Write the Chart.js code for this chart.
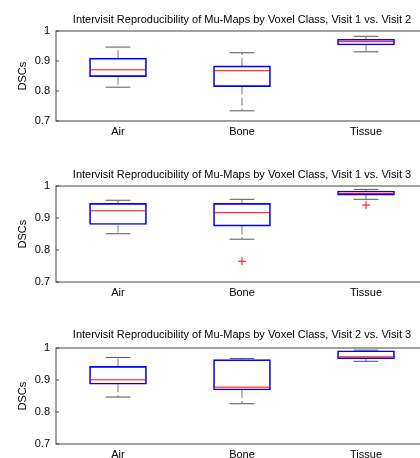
<!DOCTYPE html>
<html>
<head>
<meta charset="utf-8">
<script src="https://cdn.jsdelivr.net/npm/chart.js@4/dist/chart.umd.min.js"></script>
<style>
  body { margin: 0; width: 420px; height: 458px; overflow: hidden; background: #fff; position: relative; }
  .panel { position: absolute; left: 0; width: 440px; }
</style>
</head>
<body>
<div class="panel" style="top:0px"><canvas id="c1" width="440" height="141"></canvas></div>
<div class="panel" style="top:155px"><canvas id="c2" width="440" height="147"></canvas></div>
<div class="panel" style="top:315px"><canvas id="c3" width="440" height="149"></canvas></div>
<script>
// data
const classes = ["Air", "Bone", "Tissue"];
const yTicks = [0.7, 0.8, 0.9, 1];
const titles = [
  "Intervisit Reproducibility of Mu-Maps by Voxel Class, Visit 1 vs. Visit 2",
  "Intervisit Reproducibility of Mu-Maps by Voxel Class, Visit 1 vs. Visit 3",
  "Intervisit Reproducibility of Mu-Maps by Voxel Class, Visit 2 vs. Visit 3",
];

// visit 1 vs 2
const low12 = [0.813, 0.734, 0.931];
const q1_12 = [0.848, 0.815, 0.954];
const med12 = [0.871, 0.868, 0.965];
const q3_12 = [0.910, 0.884, 0.973];
const high12 = [0.947, 0.928, 0.983];
const out12Class = [];
const out12Val = [];

// visit 1 vs 3
const low13 = [0.851, 0.834, 0.959];
const q1_13 = [0.880, 0.875, 0.972];
const med13 = [0.923, 0.917, 0.977];
const q3_13 = [0.946, 0.946, 0.985];
const high13 = [0.956, 0.959, 0.990];
const out13Class = ["Bone", "Tissue"];
const out13Val = [0.765, 0.941];

// visit 2 vs 3
const low23 = [0.847, 0.826, 0.959];
const q1_23 = [0.887, 0.869, 0.967];
const med23 = [0.901, 0.878, 0.973];
const q3_23 = [0.943, 0.964, 0.992];
const high23 = [0.971, 0.968, 0.994];
const out23Class = [];
const out23Val = [];

// layout of the three panels
const titlePadBottom = [6, 6, 8];
const boxHalf = 0.23;
const capHalf = 0.1;

const framePlugin = {
  id: "frame",
  afterDraw(chart) {
    const ctx = chart.ctx;
    const a = chart.chartArea;
    ctx.save();
    ctx.strokeStyle = "#444";
    ctx.lineWidth = 1;
    ctx.strokeRect(Math.round(a.left), Math.round(a.top), Math.round(a.right - a.left), Math.round(a.bottom - a.top));
    ctx.beginPath();
    chart.scales.y.ticks.forEach((t) => {
      const y = Math.round(chart.scales.y.getPixelForValue(t.value));
      ctx.moveTo(a.left, y);
      ctx.lineTo(a.left + 3, y);
    });
    ctx.stroke();
    ctx.restore();
  },
};

function makePanel(id, idx, low, q1, med, q3, high, outClass, outVal) {
  const boxes = classes.map((c, i) => ({ x: i + 1, y: [q1[i], q3[i]] }));
  const medians = [];
  const caps = [];
  const whiskers = [];
  classes.forEach((c, i) => {
    const x = i + 1;
    medians.push({ x: x - boxHalf, y: med[i] }, { x: x + boxHalf, y: med[i] }, { x: x, y: null });
    caps.push({ x: x - capHalf, y: high[i] }, { x: x + capHalf, y: high[i] }, { x: x, y: null });
    caps.push({ x: x - capHalf, y: low[i] }, { x: x + capHalf, y: low[i] }, { x: x, y: null });
    whiskers.push({ x: x, y: q3[i] }, { x: x, y: high[i] }, { x: x, y: null });
    whiskers.push({ x: x, y: q1[i] }, { x: x, y: low[i] }, { x: x, y: null });
  });
  const outliers = outClass.map((c, k) => ({ x: classes.indexOf(c) + 1, y: outVal[k] }));

  new Chart(document.getElementById(id), {
    type: "bar",
    data: {
      datasets: [
        {
          type: "scatter",
          data: outliers,
          pointStyle: "cross",
          pointRadius: 4,
          borderColor: "#ff0000",
          borderWidth: 1,
          order: 0,
        },
        {
          type: "line",
          data: medians,
          borderColor: "#ff0000",
          borderWidth: 1,
          pointRadius: 0,
          spanGaps: false,
          order: 1,
        },
        {
          type: "bar",
          data: boxes,
          backgroundColor: "rgba(0,0,0,0)",
          borderColor: "#0000ff",
          borderWidth: 1,
          borderSkipped: false,
          barThickness: 57,
          order: 2,
        },
        {
          type: "line",
          data: caps,
          borderColor: "#555",
          borderWidth: 1,
          pointRadius: 0,
          spanGaps: false,
          order: 3,
        },
        {
          type: "line",
          data: whiskers,
          borderColor: "#777",
          borderWidth: 1,
          borderDash: [8, 3],
          pointRadius: 0,
          spanGaps: false,
          order: 4,
        },
      ],
    },
    options: {
      responsive: false,
      animation: false,
      layout: { padding: { top: 13, right: 12, left: 0, bottom: 0 } },
      plugins: {
        legend: { display: false },
        tooltip: { enabled: false },
        title: {
          display: true,
          text: titles[idx],
          fullSize: false,
          color: "#000",
          font: { family: "Liberation Sans", size: 11, weight: "normal" },
          padding: { top: 0, bottom: titlePadBottom[idx] - 1 },
        },
      },
      scales: {
        x: {
          type: "linear",
          offset: false,
          min: 0.5,
          max: 3.5,
          grid: { display: false, drawTicks: false, offset: false },
          border: { display: false },
          afterBuildTicks: (s) => { s.ticks = classes.map((c, i) => ({ value: i + 1 })); },
          afterFit: (s) => { s.height = 20; },
          ticks: {
            padding: 4,
            color: "#000",
            maxRotation: 0,
            font: { family: "Liberation Sans", size: 11 },
            callback: (v) => classes[v - 1],
          },
        },
        y: {
          min: 0.7,
          max: 1,
          grid: { display: false, drawTicks: false },
          border: { display: false },
          afterBuildTicks: (s) => { s.ticks = yTicks.map((v) => ({ value: v })); },
          afterFit: (s) => { s.width = 56; },
          title: {
            display: true,
            text: "DSCs",
            color: "#000",
            font: { family: "Liberation Sans", size: 11 },
            padding: { top: 16, bottom: 0 },
          },
          ticks: {
            padding: 6,
            color: "#000",
            font: { family: "Liberation Sans", size: 11 },
            callback: (v) => String(v),
          },
        },
      },
    },
    plugins: [framePlugin],
  });
}

makePanel("c1", 0, low12, q1_12, med12, q3_12, high12, out12Class, out12Val);
makePanel("c2", 1, low13, q1_13, med13, q3_13, high13, out13Class, out13Val);
makePanel("c3", 2, low23, q1_23, med23, q3_23, high23, out23Class, out23Val);
</script>
</body>
</html>
